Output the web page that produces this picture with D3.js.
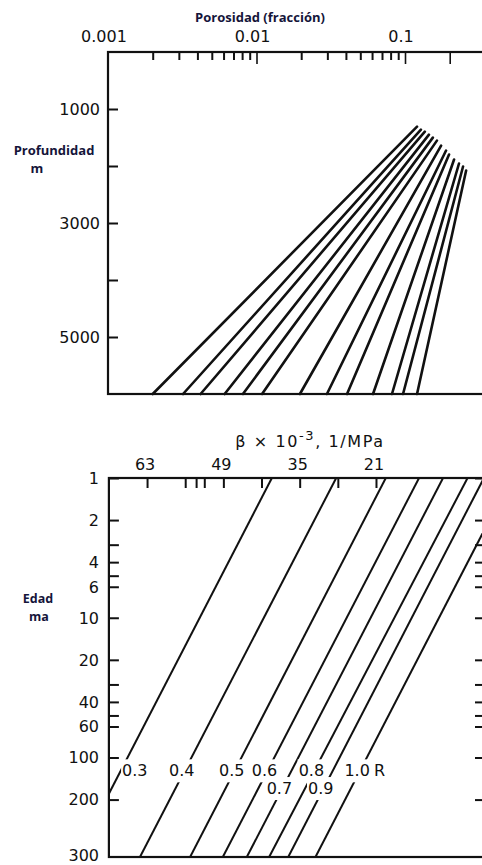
<!DOCTYPE html>
<html>
<head>
<meta charset="utf-8">
<script src="https://cdn.jsdelivr.net/npm/d3@7"></script>
<style>
  html, body { margin: 0; padding: 0; background: #fff; }
  svg { display: block; }
</style>
</head>
<body>
<svg id="chart" width="482" height="865"></svg>
<script>
// ---- Porosity vs depth panel ----
const porosityLabelValues = [0.001, 0.01, 0.1];
const porosityLabelText = ["0.001", "0.01", "0.1"];
const porosityMajorTicks = [0.01, 0.1, 0.2];
const depthTicks = [1000, 2000, 3000, 4000, 5000];
const depthLabels = [1000, 3000, 5000];
// each compaction line: shallow end (porosity, depth) and porosity at the base of the section
const shallowPorosity = [0.1205, 0.128, 0.136, 0.145, 0.154, 0.164, 0.175, 0.189, 0.198, 0.214, 0.231, 0.246, 0.258];
const shallowDepth = [1310, 1362, 1397, 1450, 1502, 1555, 1642, 1729, 1799, 1886, 1956, 2009, 2079];
const basePorosity = [0.0020, 0.0032, 0.0042, 0.0061, 0.0081, 0.0109, 0.0196, 0.0298, 0.0407, 0.0609, 0.0817, 0.097, 0.1205];
const baseDepth = 6000;

// ---- Compressibility vs age panel ----
const betaTicks = [63, 56, 54, 52.5, 49, 42, 35, 28, 21];
const betaLabels = [63, 49, 35, 21];
const ageTicks = [1, 2, 3, 4, 5, 6, 10, 20, 30, 40, 50, 60, 100, 200];
const ageLabels = [1, 2, 4, 6, 10, 20, 40, 60, 100, 200];
const ageBottomLabel = "300";
const reflectance = ["0.3", "0.4", "0.5", "0.6", "0.7", "0.8", "0.9", "1.0"];
const betaAtYoungest = [40.1, 28.3, 19.2, 13.1, 8.7, 4.2, 1.2, -3.8];   // β at 1 Ma
const betaAtOldest = [76.0, 64.3, 55.1, 49.1, 44.7, 40.6, 37.1, 32.1];   // β at the base age
const reflectanceLabelAge = [124, 124, 124, 124, 166, 124, 166, 124];

const svg = d3.select("#chart");
const ink = "#111";
const titleInk = "#15153a";
const numFont = "'DejaVu Sans', sans-serif";
const titleFont = "'Open Sans', sans-serif";

// ===== Top panel =====
const xPor = d3.scaleLog().domain([0.001, 0.35]).range([108, 485.8]);
const yDep = d3.scaleLinear().domain([0, baseDepth]).range([52, 394]);

const topPanel = svg.append("g");
topPanel.append("text")
  .attr("x", 260).attr("y", 22)
  .attr("text-anchor", "middle")
  .attr("font-family", titleFont).attr("font-weight", 700).attr("font-size", 13)
  .attr("fill", titleInk)
  .text("Porosidad (fracción)");

// minor ticks
const minorPor = xPor.ticks().filter(v => v < 0.2 && ![0.001, 0.01, 0.1].some(d => Math.abs(d - v) < 1e-9));
topPanel.append("g")
  .attr("transform", `translate(0,${yDep(0)})`)
  .call(d3.axisTop(xPor).tickValues(minorPor).tickSize(-8).tickFormat(""))
  .call(g => g.select(".domain").remove())
  .call(g => g.selectAll("line").attr("stroke", ink).attr("stroke-width", 2));
topPanel.append("g")
  .attr("transform", `translate(0,${yDep(0)})`)
  .call(d3.axisTop(xPor).tickValues(porosityMajorTicks).tickSize(-12).tickFormat(""))
  .call(g => g.select(".domain").remove())
  .call(g => g.selectAll("line").attr("stroke", ink).attr("stroke-width", 1.6));

topPanel.selectAll("text.por")
  .data(porosityLabelValues)
  .join("text")
  .attr("class", "por")
  .attr("x", d => xPor(d) - 4)
  .attr("y", 42)
  .attr("text-anchor", "middle")
  .attr("font-family", numFont).attr("font-size", 16)
  .attr("fill", ink)
  .text((d, i) => porosityLabelText[i]);

// depth ticks (inward)
topPanel.append("g")
  .attr("transform", `translate(${xPor(0.001)},0)`)
  .call(d3.axisLeft(yDep).tickValues(depthTicks).tickSize(-10).tickFormat(""))
  .call(g => g.select(".domain").remove())
  .call(g => g.selectAll("line").attr("stroke", ink).attr("stroke-width", 2));
topPanel.selectAll("text.dep")
  .data(depthLabels)
  .join("text")
  .attr("class", "dep")
  .attr("x", 100)
  .attr("y", d => yDep(d))
  .attr("dy", "0.36em")
  .attr("text-anchor", "end")
  .attr("font-family", numFont).attr("font-size", 16)
  .attr("fill", ink)
  .text(d => d);

topPanel.append("text")
  .attr("x", 54).attr("y", 155)
  .attr("text-anchor", "middle")
  .attr("font-family", titleFont).attr("font-weight", 700).attr("font-size", 13)
  .attr("fill", titleInk).text("Profundidad");
topPanel.append("text")
  .attr("x", 37).attr("y", 173)
  .attr("text-anchor", "middle")
  .attr("font-family", titleFont).attr("font-weight", 700).attr("font-size", 13)
  .attr("fill", titleInk).text("m");

// compaction lines
const compaction = shallowPorosity.map((p, i) => [
  [p, shallowDepth[i]],
  [basePorosity[i], baseDepth]
]);
const porLine = d3.line().x(d => xPor(d[0])).y(d => yDep(d[1]));
topPanel.selectAll("path.comp")
  .data(compaction)
  .join("path")
  .attr("class", "comp")
  .attr("d", porLine)
  .attr("fill", "none")
  .attr("stroke", ink)
  .attr("stroke-width", 2.6)
  .attr("stroke-linecap", "round");

// frame
topPanel.append("rect")
  .attr("x", xPor(0.001)).attr("y", yDep(0))
  .attr("width", xPor(0.35) - xPor(0.001))
  .attr("height", yDep(baseDepth) - yDep(0))
  .attr("fill", "none").attr("stroke", ink).attr("stroke-width", 2.2);

// ===== Bottom panel =====
const xBeta = d3.scaleLinear().domain([70, 1]).range([108.9, 485]);
const yAge = d3.scaleLog().domain([1, 515]).range([478, 857]);
const ageMax = yAge.domain()[1];

const botPanel = svg.append("g");
const titleText = botPanel.append("text")
  .attr("x", 310).attr("y", 447)
  .attr("text-anchor", "middle")
  .attr("font-family", numFont).attr("font-size", 16)
  .attr("letter-spacing", 1.6)
  .attr("fill", ink);
titleText.append("tspan").text("β × 10");
titleText.append("tspan").attr("font-size", 13).attr("dy", -7).text("-3");
titleText.append("tspan").attr("dy", 7).text(",  1/MPa");

botPanel.append("defs").append("clipPath").attr("id", "ageClip")
  .append("rect")
  .attr("x", xBeta(70)).attr("y", yAge(1))
  .attr("width", xBeta(1) - xBeta(70))
  .attr("height", yAge(ageMax) - yAge(1));

botPanel.append("g")
  .attr("transform", `translate(0,${yAge(1)})`)
  .call(d3.axisTop(xBeta).tickValues(betaTicks).tickSize(-10).tickFormat(""))
  .call(g => g.select(".domain").remove())
  .call(g => g.selectAll("line").attr("stroke", ink).attr("stroke-width", 2));
botPanel.selectAll("text.beta")
  .data(betaLabels)
  .join("text")
  .attr("class", "beta")
  .attr("x", d => xBeta(d) - 2)
  .attr("y", 470)
  .attr("text-anchor", "middle")
  .attr("font-family", numFont).attr("font-size", 16)
  .attr("fill", ink)
  .text(d => d);

// age ticks on both sides, pointing inward
botPanel.append("g")
  .attr("transform", `translate(${xBeta(70)},0)`)
  .call(d3.axisLeft(yAge).tickValues(ageTicks).tickSize(-10).tickFormat(""))
  .call(g => g.select(".domain").remove())
  .call(g => g.selectAll("line").attr("stroke", ink).attr("stroke-width", 2));
botPanel.append("g")
  .attr("transform", `translate(${xBeta(1)},0)`)
  .call(d3.axisRight(yAge).tickValues(ageTicks).tickSize(-10).tickFormat(""))
  .call(g => g.select(".domain").remove())
  .call(g => g.selectAll("line").attr("stroke", ink).attr("stroke-width", 2));
botPanel.selectAll("text.age")
  .data(ageLabels)
  .join("text")
  .attr("class", "age")
  .attr("x", 99)
  .attr("y", d => yAge(d))
  .attr("dy", "0.36em")
  .attr("text-anchor", "end")
  .attr("font-family", numFont).attr("font-size", 16)
  .attr("fill", ink)
  .text(d => d);
botPanel.append("text")
  .attr("x", 99).attr("y", yAge(ageMax) - 1)
  .attr("dy", "0.3em")
  .attr("text-anchor", "end")
  .attr("font-family", numFont).attr("font-size", 16)
  .attr("fill", ink)
  .text(ageBottomLabel);

botPanel.append("text")
  .attr("x", 38).attr("y", 603)
  .attr("text-anchor", "middle")
  .attr("font-family", titleFont).attr("font-weight", 700).attr("font-size", 12.5)
  .attr("fill", titleInk).text("Edad");
botPanel.append("text")
  .attr("x", 39).attr("y", 621)
  .attr("text-anchor", "middle")
  .attr("font-family", titleFont).attr("font-weight", 700).attr("font-size", 12.5)
  .attr("fill", titleInk).text("ma");

// iso-reflectance lines
const roLines = reflectance.map((r, i) => ({
  ro: r,
  pts: [[betaAtYoungest[i], 1], [betaAtOldest[i], ageMax]],
  labelAge: reflectanceLabelAge[i]
}));
const ageLine = d3.line().x(d => xBeta(d[0])).y(d => yAge(d[1]));
botPanel.append("g").attr("clip-path", "url(#ageClip)")
  .selectAll("path")
  .data(roLines)
  .join("path")
  .attr("d", d => ageLine(d.pts))
  .attr("fill", "none")
  .attr("stroke", ink)
  .attr("stroke-width", 2);

// labels sit on their lines with a white backing that breaks the line
function betaAt(d, age) {
  const t = Math.log(age) / Math.log(ageMax);
  return d.pts[0][0] + (d.pts[1][0] - d.pts[0][0]) * t;
}
const lab = botPanel.append("g").selectAll("g")
  .data(roLines)
  .join("g")
  .attr("transform", d => `translate(${xBeta(betaAt(d, d.labelAge)) + (d.ro === "0.3" ? 14 : -3)},${yAge(d.labelAge)})`);
lab.append("text")
  .attr("text-anchor", "middle")
  .attr("dy", "0.36em")
  .attr("font-family", numFont).attr("font-size", 16)
  .attr("fill", ink)
  .text(d => d.ro);
lab.each(function () {
  const g = d3.select(this);
  const bb = g.select("text").node().getBBox();
  g.insert("rect", "text")
    .attr("x", bb.x - 1).attr("y", bb.y - 2)
    .attr("width", bb.width + 2).attr("height", bb.height + 4)
    .attr("fill", "#fff");
});
// unit letter after the last label
const lastRo = roLines[roLines.length - 1];
botPanel.append("text")
  .attr("x", xBeta(betaAt(lastRo, lastRo.labelAge)) + 14)
  .attr("y", yAge(lastRo.labelAge))
  .attr("dy", "0.36em")
  .attr("font-family", numFont).attr("font-size", 16)
  .attr("fill", ink)
  .text("R");

// frame
botPanel.append("rect")
  .attr("x", xBeta(70)).attr("y", yAge(1))
  .attr("width", xBeta(1) - xBeta(70))
  .attr("height", yAge(ageMax) - yAge(1))
  .attr("fill", "none").attr("stroke", ink).attr("stroke-width", 2.2);
</script>
</body>
</html>
